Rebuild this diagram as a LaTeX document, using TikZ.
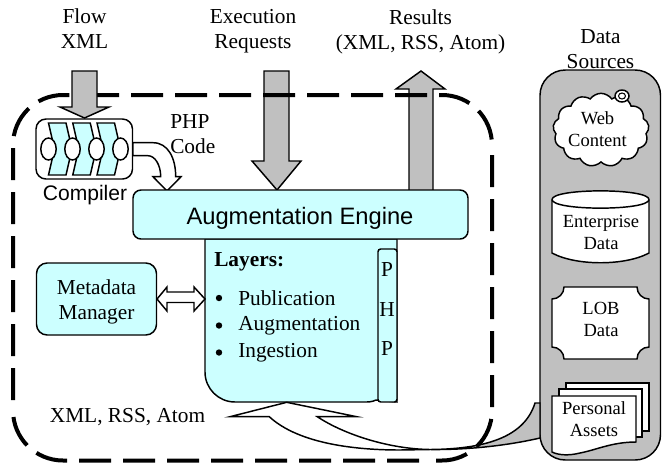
\documentclass[tikz,border=0pt]{standalone}
\usepackage{fontspec}
\setmainfont{Liberation Serif}
\newfontfamily\armfont{Liberation Sans}
\usetikzlibrary{shapes.symbols}
\definecolor{boxcyan}{HTML}{CCFFFF}
\definecolor{arrowgray}{HTML}{C0C0C0}
\tikzstyle{ptlabel} = [anchor=center, color=black, align=center, inner sep=0pt, font={\fontsize{16}{18.75}\selectfont}]
\tikzstyle{srclabel} = [ptlabel, font={\fontsize{13.9}{16.5}\selectfont}]
\tikzstyle{leftlabel} = [ptlabel, anchor=west]
\tikzstyle{whiteshape} = [draw=black, line width=1.1pt, fill=white]
\tikzstyle{cyanshape} = [whiteshape, fill=boxcyan]
\tikzstyle{grayshape} = [whiteshape, fill=arrowgray]
\tikzstyle{boundary} = [draw=black, line width=3pt, dash pattern=on 24pt off 9pt]

\begin{document}
\begin{tikzpicture}[x=.75pt, y=-.75pt]
  \useasboundingbox (0,0) rectangle (665,462);

  % labels on top
  \node[at={(84.5,28.5)}, ptlabel] (flowlabel) {Flow\\XML};
  \node[at={(253,31)}, ptlabel] (execlabel) {Execution\\Requests};
  \node[at={(420.5,31.5)}, ptlabel] (resultlabel) {Results\\(XML, RSS, Atom)};

  % data sources
  \filldraw[grayshape, rounded corners=19pt] (540,70) rectangle (660.5,460);
  \node[at={(600.5,49)}, ptlabel] (sourcelabel) {Data\\Sources};

  % cloud
  \node[at={(601,130)}, whiteshape, cloud, cloud puffs=13, cloud puff arc=110, aspect=1.3, minimum width=72pt, minimum height=55pt, inner sep=0pt] (webcloud) {};
  \filldraw[whiteshape] (622,96) ellipse (7 and 6);
  \draw[line width=.8pt] (622,96) ellipse (3.5 and 3);
  \node[at={(597.5,129)}, srclabel] (weblabel) {Web\\Content};

  % enterprise
  \filldraw[whiteshape] (552,199.5) .. controls (552,188) and (649,188) .. (649,199.5) -- (649,253) .. controls (625,266) and (576,266) .. (552,253) -- cycle;
  \draw[line width=1.1pt] (552,199.5) .. controls (552,211) and (649,211) .. (649,199.5);
  \node[at={(601,232)}, srclabel] (entlabel) {Enterprise\\Data};

  % lob
  \filldraw[whiteshape] (564,287) -- (637,287) arc (180:90:12) -- (649,347) arc (270:180:12) -- (564,359) arc (0:-90:12) -- (552,299) arc (90:0:12) -- cycle;
  \node[at={(601,319)}, srclabel] (loblabel) {LOB\\Data};

  % personal assets
  \filldraw[whiteshape] (566,383) rectangle (649,431);
  \filldraw[whiteshape] (559,389) rectangle (642,437);
  \filldraw[whiteshape] (552,396) -- (636,396) -- (636,442) .. controls (612,442) and (596,450) .. (580,453) .. controls (568,456) and (558,455) .. (552,452) -- cycle;
  \node[at={(594,419)}, srclabel] (assetlabel) {Personal\\Assets};

  % tail behind the boundary
  \filldraw[grayshape] (540,403) -- (535,403) .. controls (525,435) and (490,449) .. (430,449.5) .. controls (470,450) and (510,445) .. (540,438) -- cycle;

  % down and up
  \filldraw[grayshape] (264,71) -- (289,71) -- (289,161) -- (301,161) -- (277,190) -- (252,161) -- (264,161) -- cycle;
  \filldraw[grayshape] (421,71) -- (445,89) -- (433,89) -- (433,192) -- (409,192) -- (409,89) -- (396,89) -- cycle;

  % boundary
  \draw[boundary] (87,95) -- (442,95) arc (270:360:50);
  \draw[boundary] (492,155) -- (492,410.5) arc (0:90:50) -- (431,460.5);
  \draw[boundary] (419,460.5) -- (63,460.5) arc (90:180:50);
  \draw[boundary] (13,400) -- (13,145) arc (180:270:50) -- (72,95);

  % flow xml
  \filldraw[grayshape] (72,71) -- (97,71) -- (97,107) -- (109,107) -- (84.5,118) -- (60,107) -- (72,107) -- cycle;

  % compiler
  \filldraw[whiteshape, rounded corners=7.5pt] (36,119) rectangle (132.5,179);
  \begin{scope}
    \filldraw[cyanshape] (48.5,123) -- (66,123) -- (72,149) -- (66,175) -- (48.5,175) -- (54.5,149) -- cycle;
  \end{scope}
  \begin{scope}[xshift=18.2pt]
    \filldraw[cyanshape] (48.5,123) -- (66,123) -- (72,149) -- (66,175) -- (48.5,175) -- (54.5,149) -- cycle;
  \end{scope}
  \begin{scope}[xshift=36.4pt]
    \filldraw[cyanshape] (48.5,123) -- (66,123) -- (72,149) -- (66,175) -- (48.5,175) -- (54.5,149) -- cycle;
  \end{scope}
  \filldraw[whiteshape] (48.5,149) ellipse (7.7 and 11);
  \filldraw[whiteshape] (72.5,149) ellipse (7.7 and 11);
  \filldraw[whiteshape] (96.5,149) ellipse (7.7 and 11);
  \filldraw[whiteshape] (120.5,149) ellipse (7.7 and 11);
  \node[at={(85,195)}, ptlabel, font={\armfont\fontsize{15.8}{18}\selectfont}] (compilerlabel) {Compiler};

  % php code
  \filldraw[whiteshape] (133,142.7) -- (153,142.7) .. controls (168,142.7) and (175.7,158) .. (175.7,176.7) -- (181,176.7) -- (167,191) -- (153,176.7) -- (160.7,176.7) .. controls (160.7,165) and (155,155.7) .. (148,155.7) -- (133,155.7) -- cycle;
  \node[at={(170,134)}, leftlabel, align=left] (phpcode) {PHP\\Code};

  % layers
  \filldraw[cyanshape] (205,239) -- (397,239) -- (397,402) -- (376,400) .. controls (372,402) and (368,402) .. (365,402) -- (235,402) arc (90:180:30) -- cycle;
  \filldraw[cyanshape, rounded corners=2pt] (378,249) rectangle (397,402);
  \node[at={(387,270)}, ptlabel] (phpp) {P};
  \node[at={(387,310)}, ptlabel] (phph) {H};
  \node[at={(387,349)}, ptlabel] (phpq) {P};
  \node[at={(214,262)}, leftlabel] (layerstitle) {\textbf{Layers:}};
  \fill (219,298) circle (3.2);
  \fill (219,325.5) circle (3.2);
  \fill (219,352.5) circle (3.2);
  \node[at={(238,298)}, leftlabel] (publabel) {Publication};
  \node[at={(238,325.5)}, leftlabel] (auglabel) {Augmentation};
  \node[at={(238,352.5)}, leftlabel] (inglabel) {Ingestion};

  % engine
  \filldraw[cyanshape, rounded corners=6pt] (133,190) rectangle (468,239);
  \node[at={(300,218)}, ptlabel, font={\armfont\fontsize{17.8}{20}\selectfont}] (engine) {Augmentation Engine};

  % metadata
  \filldraw[cyanshape, rounded corners=8pt] (36.5,263) rectangle (156.5,335);
  \node[at={(96.5,302)}, ptlabel] (metadata) {Metadata\\Manager};
  \filldraw[whiteshape] (157,299) -- (167,287) -- (167,292) -- (194,292) -- (194,287) -- (205,299) -- (194,311) -- (194,302.5) -- (167,302.5) -- (167,311) -- cycle;

  % ingest arrow
  \node[at={(127.5,417)}, ptlabel] (ingestlabel) {XML, RSS, Atom};
  \filldraw[whiteshape] (286.7,402.3) -- (356.7,416.7) -- (317.3,416.7) .. controls (345,435) and (390,449) .. (430,449.5) -- (400,450) .. controls (360,450) and (300,445) .. (269.3,416.7) -- (230,416.7) -- cycle;
\end{tikzpicture}
\end{document}
